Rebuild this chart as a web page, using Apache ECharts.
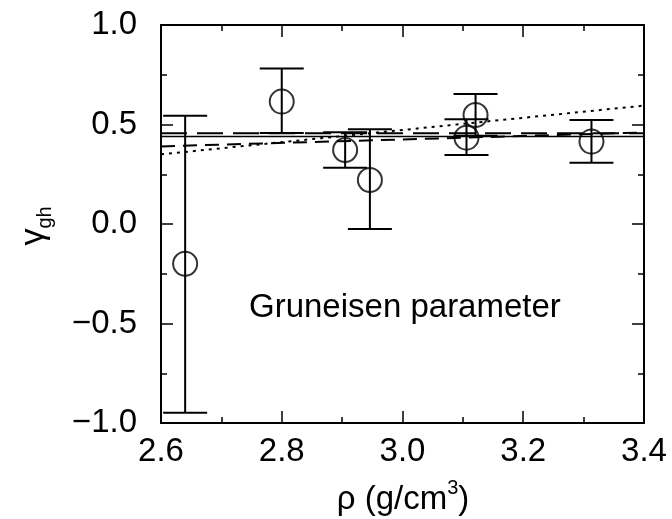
<!DOCTYPE html>
<html>
<head>
<meta charset="utf-8">
<title>Gruneisen parameter</title>
<script src="https://cdn.jsdelivr.net/npm/echarts@6/dist/echarts.min.js"></script>
<style>
  html, body { margin: 0; padding: 0; background: #fff; }
  #chart { width: 672px; height: 519px; }
</style>
</head>
<body>
<div id="chart"></div>
<script>
/**
 * @description Gruneisen parameter vs density, with error bars and fit lines
 */

// measured points
const rho = [2.64, 2.80, 2.905, 2.946, 3.106, 3.121, 3.313];
const gamma = [-0.20, 0.615, 0.372, 0.221, 0.434, 0.548, 0.414];
const errLow = [-0.948, 0.457, 0.283, -0.025, 0.347, 0.443, 0.308];
const errHigh = [0.544, 0.782, 0.461, 0.476, 0.526, 0.653, 0.523];

// fit lines (end points at rho = 2.6 and 3.4)
const fitRho = [2.6, 3.4];
const fitSolid = [0.440, 0.440];
const fitLongDash = [0.456, 0.456];
const fitDash = [0.390, 0.460];
const fitDotted = [0.350, 0.595];

// axis ticks
const xTicks = [2.6, 2.8, 3.0, 3.2, 3.4];
const yTicks = [-1.0, -0.5, 0.0, 0.5, 1.0];

const FONT = '"Liberation Sans", Arial, Helvetica, sans-serif';
const FONT_SIZE = 33;
const CAP_WIDTH = 44;

/**
 * @description error bar: vertical line with caps, through the axis scales
 */
function renderErrorBar(params, api) {
    const x = api.value(0);
    const low = api.coord([x, api.value(1)]);
    const high = api.coord([x, api.value(2)]);
    const half = CAP_WIDTH / 2;
    const style = { stroke: '#000', lineWidth: 2 };
    return {
        type: 'group',
        children: [
            { type: 'line', shape: { x1: low[0], y1: low[1], x2: high[0], y2: high[1] }, style },
            { type: 'line', shape: { x1: low[0] - half, y1: low[1], x2: low[0] + half, y2: low[1] }, style },
            { type: 'line', shape: { x1: high[0] - half, y1: high[1], x2: high[0] + half, y2: high[1] }, style }
        ]
    };
}

function fitSeries(values, type, width) {
    return {
        type: 'line',
        data: fitRho.map((r, i) => [r, values[i]]),
        showSymbol: false,
        silent: true,
        lineStyle: { color: '#000', width: width, type: type },
        z: 2
    };
}

function makeAxis(ticks, position, showLabel, margin) {
    return {
        type: 'value',
        position: position,
        min: ticks[0],
        max: ticks[ticks.length - 1],
        interval: ticks[1] - ticks[0],
        axisLine: { show: true, onZero: false, lineStyle: { color: '#000', width: 2 } },
        axisTick: { show: true, inside: true, length: 12, lineStyle: { color: '#000', width: 1.5 } },
        minorTick: { show: true, splitNumber: 2, length: 6, lineStyle: { color: '#000', width: 1.5 } },
        splitLine: { show: false },
        axisLabel: {
            show: showLabel,
            margin: margin,
            color: '#000',
            fontFamily: FONT,
            fontSize: FONT_SIZE,
            formatter: v => (v < 0 ? '\u2212' : '') + Math.abs(v).toFixed(1)
        }
    };
}

const chart = echarts.init(document.getElementById('chart'));

const option = {
    animation: false,
    backgroundColor: '#fff',
    grid: { left: 161, right: 28, top: 25, bottom: 96 },
    xAxis: [
        makeAxis(xTicks, 'bottom', true, 12),
        makeAxis(xTicks, 'top', false, 0)
    ],
    yAxis: [
        makeAxis(yTicks, 'left', true, 24),
        makeAxis(yTicks, 'right', false, 0)
    ],
    series: [
        fitSeries(fitSolid, 'solid', 1.5),
        fitSeries(fitLongDash, [26, 10], 2),
        fitSeries(fitDash, [14, 8], 2),
        fitSeries(fitDotted, [3, 5], 2),
        {
            type: 'custom',
            renderItem: renderErrorBar,
            data: rho.map((r, i) => [r, errLow[i], errHigh[i]]),
            silent: true,
            z: 3
        },
        {
            type: 'scatter',
            data: rho.map((r, i) => [r, gamma[i]]),
            symbol: 'circle',
            symbolSize: 24,
            itemStyle: { color: 'rgba(0,0,0,0)', borderColor: '#000', borderWidth: 2 },
            silent: true,
            z: 4
        }
    ],
    graphic: [
        {
            type: 'text',
            left: 249,
            top: 291,
            style: { text: 'Gruneisen parameter', font: FONT_SIZE + 'px ' + FONT, fill: '#000' }
        },
        {
            type: 'text',
            x: 403,
            y: 497,
            style: {
                text: '{t|\u03c1 (g/cm}{sup|3}{t|)}',
                align: 'center',
                verticalAlign: 'middle',
                rich: {
                    t: { fontFamily: FONT, fontSize: FONT_SIZE, fill: '#000', verticalAlign: 'bottom', lineHeight: 38 },
                    sup: { fontFamily: FONT, fontSize: 20, fill: '#000', verticalAlign: 'top', lineHeight: 38, padding: [0, 0, 12, 0] }
                }
            }
        },
        {
            type: 'text',
            x: 36,
            y: 226,
            rotation: Math.PI / 2,
            style: {
                text: '{g|\u03b3}{s|gh}',
                align: 'center',
                verticalAlign: 'middle',
                rich: {
                    g: { fontFamily: FONT, fontSize: 34, fill: '#000', verticalAlign: 'top', lineHeight: 38 },
                    s: { fontFamily: FONT, fontSize: 20, fill: '#000', verticalAlign: 'bottom', lineHeight: 38, padding: [12, 0, 0, 0] }
                }
            }
        }
    ]
};

chart.setOption(option);
</script>
</body>
</html>
